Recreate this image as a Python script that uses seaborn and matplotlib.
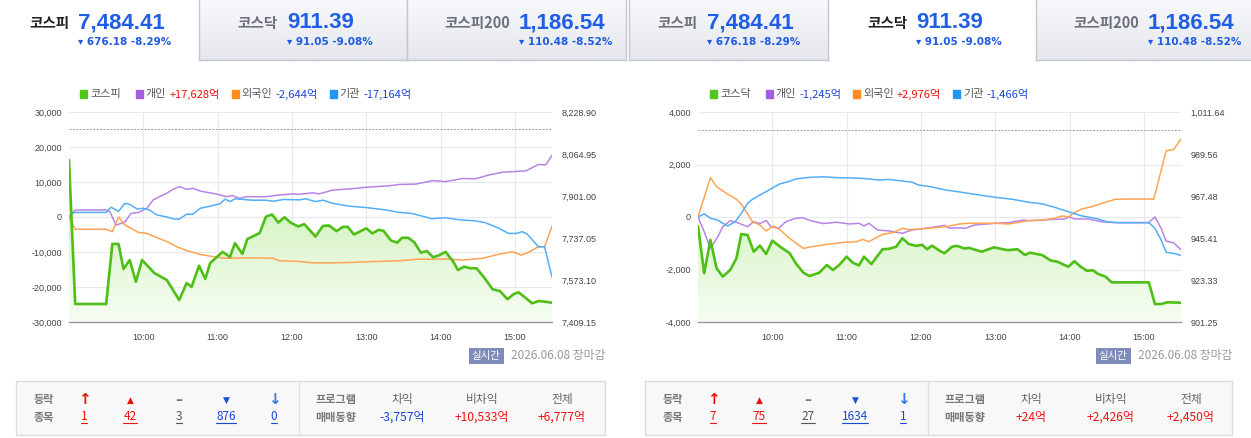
import numpy as np
import pandas as pd
import seaborn as sns
import matplotlib.pyplot as plt
import matplotlib.dates as mdates
from matplotlib.colors import LinearSegmentedColormap
from matplotlib.lines import Line2D
from matplotlib.patches import Rectangle
from matplotlib.ticker import FuncFormatter

W, H = 1251, 438
DAY = "2026-06-08 "

# ---------------- header data ----------------
index_names = ["코스피", "코스닥", "코스피200"]
index_values = ["7,484.41", "911.39", "1,186.54"]
index_changes = ["676.18 -8.29%", "91.05 -9.08%", "110.48 -8.52%"]

# ---------------- 코스피 ----------------
kospi_time = ["09:00", "09:05", "09:30", "09:35", "09:40", "09:44", "09:49", "09:54", "09:59", "10:09",
              "10:19", "10:29", "10:35", "10:39", "10:45", "10:50", "10:54", "11:04", "11:10", "11:14",
              "11:20", "11:24", "11:30", "11:34", "11:39", "11:44", "11:49", "11:54", "11:59", "12:05",
              "12:10", "12:19", "12:25", "12:30", "12:36", "12:41", "12:45", "12:50", "12:54", "13:00",
              "13:05", "13:10", "13:14", "13:20", "13:25", "13:29", "13:34", "13:39", "13:44", "13:49",
              "13:54", "13:59", "14:04", "14:10", "14:14", "14:19", "14:24", "14:29", "14:35", "14:42",
              "14:48", "14:54", "14:59", "15:03", "15:09", "15:14", "15:19", "15:25", "15:30"]
kospi_price = [8041.5, 7479.4, 7479.4, 7713.6, 7714.0, 7616.0, 7651.0, 7566.0, 7651.0, 7600.0,
               7573.0, 7495.0, 7561.0, 7546.0, 7629.0, 7577.0, 7639.0, 7683.0, 7663.0, 7717.0,
               7675.0, 7733.0, 7747.0, 7757.0, 7820.0, 7829.0, 7797.0, 7818.0, 7797.0, 7782.0,
               7791.0, 7743.0, 7784.0, 7786.0, 7764.0, 7780.0, 7781.0, 7751.0, 7760.0, 7775.0,
               7755.0, 7769.0, 7765.0, 7727.0, 7719.0, 7738.0, 7738.0, 7719.0, 7680.0, 7686.0,
               7662.0, 7670.0, 7683.0, 7647.0, 7612.0, 7625.0, 7619.0, 7619.0, 7584.0, 7537.0,
               7530.0, 7498.0, 7518.0, 7525.0, 7502.0, 7482.0, 7491.0, 7488.0, 7484.41]
kospi_prev_close = 8160.59

kospi_indiv_time = ["09:00", "09:05", "09:30", "09:33", "09:38", "09:45", "09:50", "09:56", "10:03", "10:08",
                    "10:13", "10:19", "10:24", "10:29", "10:35", "10:40", "10:46", "10:54", "11:02", "11:07",
                    "11:12", "11:18", "11:23", "11:39", "11:50", "12:01", "12:06", "12:17", "12:22", "12:33",
                    "12:49", "13:00", "13:18", "13:27", "13:40", "13:54", "14:04", "14:18", "14:28", "14:39",
                    "14:50", "15:01", "15:09", "15:19", "15:25", "15:30"]
kospi_indiv = [0, 2000, 2000, 1500, -2300, -1500, 1000, 1300, 2500, 4900,
               5800, 6800, 7900, 8700, 7900, 8200, 7400, 6900, 6300, 5800,
               6100, 5300, 5800, 5800, 6300, 6600, 6500, 6900, 6600, 7700,
               8100, 8500, 8900, 9300, 9400, 10400, 10100, 11000, 10900, 12000,
               12800, 13000, 13200, 15000, 14900, 17628]

kospi_foreign_time = ["09:00", "09:05", "09:30", "09:35", "09:40", "09:45", "09:50", "09:56", "10:03", "10:11",
                      "10:19", "10:27", "10:35", "10:46", "10:56", "11:07", "11:18", "11:34", "11:45", "11:50",
                      "12:06", "12:17", "12:33", "12:46", "13:00", "13:27", "13:40", "14:04", "14:18", "14:34",
                      "14:44", "14:55", "14:59", "15:05", "15:11", "15:19", "15:24", "15:30"]
kospi_foreign = [0, -3500, -3500, -4200, 0, -2300, -3200, -4400, -4700, -5900,
                 -7000, -8500, -9600, -10700, -11300, -11800, -11700, -11700, -11800, -12500,
                 -12700, -13100, -13100, -13000, -12800, -12500, -12100, -12000, -12300, -11800,
                 -10900, -10100, -10000, -10900, -10100, -8500, -8500, -2644]

kospi_inst_time = ["09:00", "09:04", "09:30", "09:34", "09:40", "09:45", "09:49", "09:55", "10:00", "10:05",
                   "10:11", "10:19", "10:25", "10:29", "10:35", "10:40", "10:46", "10:54", "11:02", "11:06",
                   "11:10", "11:14", "11:28", "11:39", "11:45", "11:53", "12:06", "12:11", "12:19", "12:25",
                   "12:33", "12:46", "13:00", "13:16", "13:27", "13:37", "13:48", "13:53", "14:04", "14:15",
                   "14:28", "14:36", "14:47", "14:55", "15:01", "15:06", "15:10", "15:19", "15:24", "15:30"]
kospi_inst = [0, 1300, 1300, 2800, 1600, 3900, 3600, 2300, 2500, 2000,
              600, 0, -600, -600, 800, 800, 2500, 3100, 3800, 5100,
              4400, 5200, 4800, 4800, 4500, 5000, 4900, 5200, 4400, 4800,
              3900, 3100, 2700, 2000, 1300, 1000, 0, -500, -200, -800,
              -1100, -1600, -3200, -4700, -4700, -4200, -4900, -8500, -8500, -17164]

kospi_breadth = [1, 42, 3, 876, 0]
kospi_program = [-3757, 10533, 6777]

# ---------------- 코스닥 ----------------
kosdaq_time = ["09:00", "09:05", "09:10", "09:15", "09:20", "09:26", "09:31", "09:35", "09:40", "09:45",
               "09:50", "09:55", "10:00", "10:07", "10:14", "10:19", "10:25", "10:30", "10:38", "10:44",
               "10:49", "10:54", "11:00", "11:05", "11:10", "11:14", "11:20", "11:29", "11:34", "11:40",
               "11:45", "11:50", "11:56", "12:01", "12:05", "12:09", "12:15", "12:19", "12:25", "12:29",
               "12:35", "12:39", "12:49", "12:59", "13:10", "13:18", "13:24", "13:28", "13:38", "13:45",
               "13:50", "13:59", "14:04", "14:09", "14:14", "14:19", "14:23", "14:29", "14:34", "15:04",
               "15:09", "15:14", "15:19", "15:30"]
kosdaq_price = [951.7, 926.9, 944.4, 929.5, 925.1, 928.6, 934.7, 947.5, 947.0, 938.2,
                941.4, 937.0, 944.0, 940.5, 937.4, 932.1, 927.2, 925.4, 927.2, 931.2,
                928.6, 931.2, 935.6, 932.4, 931.0, 935.6, 931.7, 939.5, 939.7, 940.8,
                945.3, 942.3, 941.3, 941.8, 939.5, 941.4, 938.7, 937.4, 940.8, 941.3,
                939.9, 940.2, 938.2, 940.5, 939.0, 939.5, 936.5, 937.7, 936.4, 933.5,
                933.0, 930.3, 933.2, 930.3, 928.2, 928.4, 926.5, 925.1, 922.1, 922.1,
                910.7, 910.7, 911.6, 911.39]
kosdaq_prev_close = 1002.44

kosdaq_indiv_time = ["09:00", "09:05", "09:10", "09:16", "09:20", "09:26", "09:31", "09:40", "09:45", "09:50",
                     "09:55", "09:59", "10:05", "10:11", "10:18", "10:24", "10:31", "10:41", "10:52", "11:02",
                     "11:10", "11:14", "11:18", "11:25", "11:34", "11:45", "11:53", "12:01", "12:07", "12:12",
                     "12:19", "12:23", "12:29", "12:36", "12:43", "13:00", "13:11", "13:23", "13:27", "13:38",
                     "13:48", "13:56", "14:00", "14:04", "14:15", "14:26", "14:37", "15:04", "15:09", "15:14",
                     "15:18", "15:24", "15:30"]
kosdaq_indiv = [0, -560, -1195, -750, -370, -140, -200, -370, -180, -250,
                -130, -370, -430, -180, -60, -20, -140, -250, -200, -265,
                -240, -340, -240, -495, -530, -620, -495, -450, -410, -370,
                -320, -430, -410, -430, -305, -240, -215, -115, -140, -115,
                -90, -75, 0, -75, -75, -180, -215, -215, 0, -430,
                -915, -985, -1245]

kosdaq_foreign_time = ["09:00", "09:10", "09:15", "09:23", "09:31", "09:35", "09:39", "09:44", "09:50", "09:55",
                       "10:01", "10:06", "10:14", "10:25", "10:35", "10:46", "10:57", "11:08", "11:13", "11:18",
                       "11:29", "11:37", "11:45", "11:50", "12:01", "12:12", "12:21", "12:31", "12:39", "13:00",
                       "13:11", "13:27", "13:38", "13:48", "13:54", "13:59", "14:04", "14:10", "14:18", "14:26",
                       "14:37", "14:47", "15:04", "15:08", "15:13", "15:18", "15:24", "15:30"]
kosdaq_foreign = [0, 1500, 1155, 900, 675, 495, 200, -180, -305, -535,
                  -340, -480, -815, -1195, -1105, -1030, -970, -940, -850, -940,
                  -660, -600, -430, -480, -450, -405, -365, -265, -240, -240,
                  -265, -140, -115, -50, 40, 0, 165, 305, 395, 520,
                  675, 685, 685, 675, 1600, 2525, 2570, 2976]

kosdaq_inst_time = ["09:00", "09:05", "09:10", "09:16", "09:20", "09:24", "09:30", "09:35", "09:40", "09:44",
                    "09:50", "09:55", "10:01", "10:06", "10:13", "10:19", "10:30", "10:41", "10:52", "11:02",
                    "11:13", "11:26", "11:34", "11:45", "11:53", "11:58", "12:07", "12:20", "12:33", "12:47",
                    "13:00", "13:14", "13:27", "13:38", "13:48", "13:59", "14:10", "14:21", "14:31", "14:39",
                    "15:04", "15:09", "15:14", "15:18", "15:24", "15:30"]
kosdaq_inst = [0, 120, -50, -115, -240, -340, -180, 140, 520, 675,
               840, 965, 1130, 1260, 1345, 1450, 1510, 1530, 1500, 1490,
               1470, 1410, 1430, 1370, 1320, 1220, 1160, 1030, 940, 840,
               750, 675, 560, 500, 370, 200, 40, -50, -190, -215,
               -215, -430, -880, -1345, -1385, -1466]

kosdaq_breadth = [7, 75, 27, 1634, 1]
kosdaq_program = [24, 2426, 2450]

# ---------------- style ----------------
GREEN = "#4fbf17"
LINE_COLORS = {"개인": "#b784e6", "외국인": "#ffa452", "기관": "#52aef7"}
SQUARE_COLORS = {"코스피": "#52c41a", "코스닥": "#52c41a", "개인": "#a35ee0",
                 "외국인": "#ff8c1a", "기관": "#2196f3"}
RED = "#f01010"
BLUE = "#1a46d6"
KR = ["Noto Sans CJK KR", "DejaVu Sans"]

sns.set_theme(style="white")
plt.rcParams["font.family"] = ["Liberation Sans", "Noto Sans CJK KR", "DejaVu Sans"]

fig = plt.figure(figsize=(W / 100, H / 100), dpi=100)
fig.patch.set_facecolor("white")
renderer = fig.canvas.get_renderer()
underline = []

tab_cmap = LinearSegmentedColormap.from_list("tab", ["#f8f9fb", "#e5e7ed"])
fill_cmap = LinearSegmentedColormap.from_list("fill", ["#b6ea94", "#d8f4c6", "#f6fdf2"])


def put(x, y, s, **kw):
    kw.setdefault("va", "center")
    return fig.text(x / W, 1 - y / H, s, **kw)


def hhmm(ts):
    return pd.to_datetime([DAY + t for t in ts])


def signed(v):
    return f"{v:+,}억"


def header(edges, selected):
    offsets = [78, 88, 112]
    for i in range(3):
        a, b = edges[i], edges[i + 1]
        if i != selected:
            tab = fig.add_axes([a / W, 1 - 60 / H, (b - a) / W, 61 / H])
            tab.imshow(np.linspace(0, 1, 60).reshape(-1, 1), cmap=tab_cmap, aspect="auto",
                       extent=[0, 1, 0, 1])
            tab.set_xticks([])
            tab.set_yticks([])
            for s in tab.spines.values():
                s.set_color("#c3c7d0")
                s.set_linewidth(1)
            tab.spines["top"].set_visible(False)
        nx = a + offsets[i]
        put(nx - 9, 23, index_names[i], ha="right", fontsize=10.5, weight="bold",
            color="#222222" if i == selected else "#6b6f7c", family=KR)
        put(nx, 23, index_values[i], ha="left", fontsize=16, weight="bold", color="#1f5fe6")
        put(nx, 42, "\u25be " + index_changes[i], ha="left", fontsize=7.5, weight="bold",
            color="#1f5be0", family=["DejaVu Sans"])


def legend(x, y, items):
    for name, total in items:
        fig.add_artist(Rectangle((x / W, 1 - (y + 3.5) / H), 7 / W, 7 / H,
                                 color=SQUARE_COLORS[name], transform=fig.transFigure))
        x += 10
        t = put(x, y, name, fontsize=8, color="#555555", family=KR)
        x = t.get_window_extent(renderer).x1 + 3
        if total is not None:
            t = put(x, y, signed(total), fontsize=8, color=RED if total > 0 else BLUE, family=KR)
            x = t.get_window_extent(renderer).x1
        x += 12


def overlay(host, ylim, z):
    a = host.twinx()
    a.set_zorder(z)
    a.patch.set_visible(False)
    a.set_ylim(ylim)
    a.set_yticks([])
    a.set_ylabel("")
    for s in a.spines.values():
        s.set_visible(False)
    return a


def panel(x0, price_time, price, flow_sets, flow_lim, flow_step, price_lim, prev_close):
    # host axis: left scale, grid, time ticks
    ax = fig.add_axes([x0 / W, 1 - 322 / H, 483 / W, 210 / H])
    ax.set_zorder(1)
    # price scale with gradient area (over grid)
    axp = ax.twinx()
    axp.set_zorder(2)
    axp.patch.set_visible(False)
    # flow lines, then index line on top
    axf = overlay(ax, flow_lim, 3)
    axg = overlay(ax, price_lim, 4)

    t = hhmm(price_time)
    poly = axp.fill_between(t, price, price_lim[0], facecolor="none", edgecolor="none")
    xn = mdates.date2num(t)
    im = axp.imshow(np.linspace(0, 1, 200).reshape(-1, 1), cmap=fill_cmap,
                    extent=[xn[0], xn[-1], price_lim[0], price_lim[1]],
                    aspect="auto", origin="upper", zorder=1)
    im.set_clip_path(poly.get_paths()[0], transform=axp.transData)
    axp.axhline(prev_close, color="#9a9a9a", lw=0.7, ls=(0, (2, 1.5)), zorder=2)

    frames = []
    for name, ft, fv in flow_sets:
        frames.append(pd.DataFrame({"time": hhmm(ft), "value": fv, "who": name}))
    df = pd.concat(frames, ignore_index=True)
    sns.lineplot(data=df, x="time", y="value", hue="who", palette=LINE_COLORS,
                 linewidth=1.1, estimator=None, legend=False, ax=axf)
    sns.lineplot(x=t, y=price, ax=axg, color=GREEN, linewidth=1.9)

    xlim = hhmm(["09:00", "15:30"])
    for a in (ax, axp, axf, axg):
        a.set_xlim(xlim)
        a.set_xlabel("")
        a.set_ylabel("")
    axf.set_ylim(flow_lim)
    axg.set_ylim(price_lim)
    axf.set_yticks([])
    axg.set_yticks([])

    ax.set_xticks(hhmm(["10:00", "11:00", "12:00", "13:00", "14:00", "15:00"]))
    ax.xaxis.set_major_formatter(mdates.DateFormatter("%H:%M"))
    ax.set_ylim(flow_lim)
    ax.set_yticks(np.arange(flow_lim[0], flow_lim[1] + 1, flow_step))
    ax.yaxis.set_major_formatter(FuncFormatter(lambda v, p: f"{v:,.0f}"))
    axp.set_ylim(price_lim)
    axp.set_yticks(np.linspace(price_lim[0], price_lim[1], 6))
    axp.yaxis.set_major_formatter(FuncFormatter(lambda v, p: f"{v:,.2f}"))

    ax.grid(True, color="#e9e9e9", lw=0.8)
    ax.tick_params(axis="both", length=0, labelsize=6.5, labelcolor="#444444")
    ax.tick_params(axis="y", pad=5)
    ax.tick_params(axis="x", pad=8)
    axp.tick_params(axis="y", length=0, labelsize=6.5, labelcolor="#444444", pad=7)
    for a in (ax, axp):
        for s in a.spines.values():
            s.set_visible(False)
    axg.spines["bottom"].set_visible(True)
    axg.spines["bottom"].set_color("#9a9a9a")
    axg.spines["bottom"].set_linewidth(1)
    axg.tick_params(axis="x", length=0, labelbottom=False)
    axf.tick_params(axis="x", length=0, labelbottom=False)
    axp.tick_params(axis="x", length=0, labelbottom=False)


def footer(x0, width, breadth, program):
    right = x0 + width
    d = put(right, 356, "2026.06.08 장마감", ha="right", fontsize=8.5, color="#999999", family=KR)
    bx = d.get_window_extent(renderer).x0 - 10
    put(bx, 356, "실시간", ha="right", fontsize=7.5, color="white", family=KR,
        bbox=dict(boxstyle="square,pad=0.3", fc="#7f8bb8", ec="none"))

    fig.add_artist(Rectangle((x0 / W, 1 - 435 / H), width / W, 54 / H, facecolor="#f8f8f8",
                             edgecolor="#dddddd", lw=1, transform=fig.transFigure))
    fig.add_artist(Line2D([(x0 + 283) / W] * 2, [1 - 434 / H, 1 - 382 / H], color="#e2e2e2",
                          lw=1, transform=fig.transFigure))
    put(x0 + 28, 400, "등락", ha="center", fontsize=8, weight="bold", color="#777777", family=KR)
    put(x0 + 28, 417, "종목", ha="center", fontsize=8, weight="bold", color="#777777", family=KR)
    symbols = ["\u2191", "\u25b2", "\u2013", "\u25bc", "\u2193"]
    sym_colors = ["#e8130e", "#e8130e", "#777777", "#1a4fd6", "#2b7de9"]
    num_colors = [RED, RED, "#555555", BLUE, BLUE]
    sym_sizes = [11, 6.5, 10, 6.5, 11]
    for off, sym, sc, nc, sz, n in zip([68, 114, 163, 210, 258], symbols, sym_colors,
                                       num_colors, sym_sizes, breadth):
        put(x0 + off, 400, sym, ha="center", fontsize=sz, weight="bold", color=sc,
            family=["DejaVu Sans"])
        underline.append(put(x0 + off, 416, f"{n}", ha="center", fontsize=8.5, color=nc,
                             family=KR))
    put(x0 + 320, 400, "프로그램", ha="center", fontsize=8, weight="bold", color="#777777", family=KR)
    put(x0 + 320, 417, "매매동향", ha="center", fontsize=8, weight="bold", color="#777777", family=KR)
    for off, lab, v in zip([386, 466, 546], ["차익", "비차익", "전체"], program):
        put(x0 + off, 400, lab, ha="center", fontsize=8.5, color="#666666", family=KR)
        put(x0 + off, 417, signed(v), ha="center", fontsize=8.7,
            color=RED if v > 0 else BLUE, family=KR)


# ---------------- left half: 코스피 ----------------
header([0, 199, 407, 626], 0)
legend(80, 94, [("코스피", None), ("개인", 17628), ("외국인", -2644), ("기관", -17164)])
panel(69, kospi_time, kospi_price,
      [("개인", kospi_indiv_time, kospi_indiv),
       ("외국인", kospi_foreign_time, kospi_foreign),
       ("기관", kospi_inst_time, kospi_inst)],
      (-30000, 30000), 10000, (7409.15, 8228.90), kospi_prev_close)
footer(16, 589, kospi_breadth, kospi_program)

# ---------------- right half: 코스닥 ----------------
header([629, 828, 1036, 1252], 1)
legend(710, 94, [("코스닥", None), ("개인", -1245), ("외국인", 2976), ("기관", -1466)])
panel(698, kosdaq_time, kosdaq_price,
      [("개인", kosdaq_indiv_time, kosdaq_indiv),
       ("외국인", kosdaq_foreign_time, kosdaq_foreign),
       ("기관", kosdaq_inst_time, kosdaq_inst)],
      (-4000, 4000), 2000, (901.25, 1011.64), kosdaq_prev_close)
footer(645, 587, kosdaq_breadth, kosdaq_program)

# underline the breadth counts
fig.canvas.draw()
for t in underline:
    bb = t.get_window_extent(renderer)
    fig.add_artist(Line2D([bb.x0, bb.x1], [bb.y0 - 0.5, bb.y0 - 0.5], color=t.get_color(),
                          lw=0.8, transform=None))

fig.savefig("out.png", dpi=100)
